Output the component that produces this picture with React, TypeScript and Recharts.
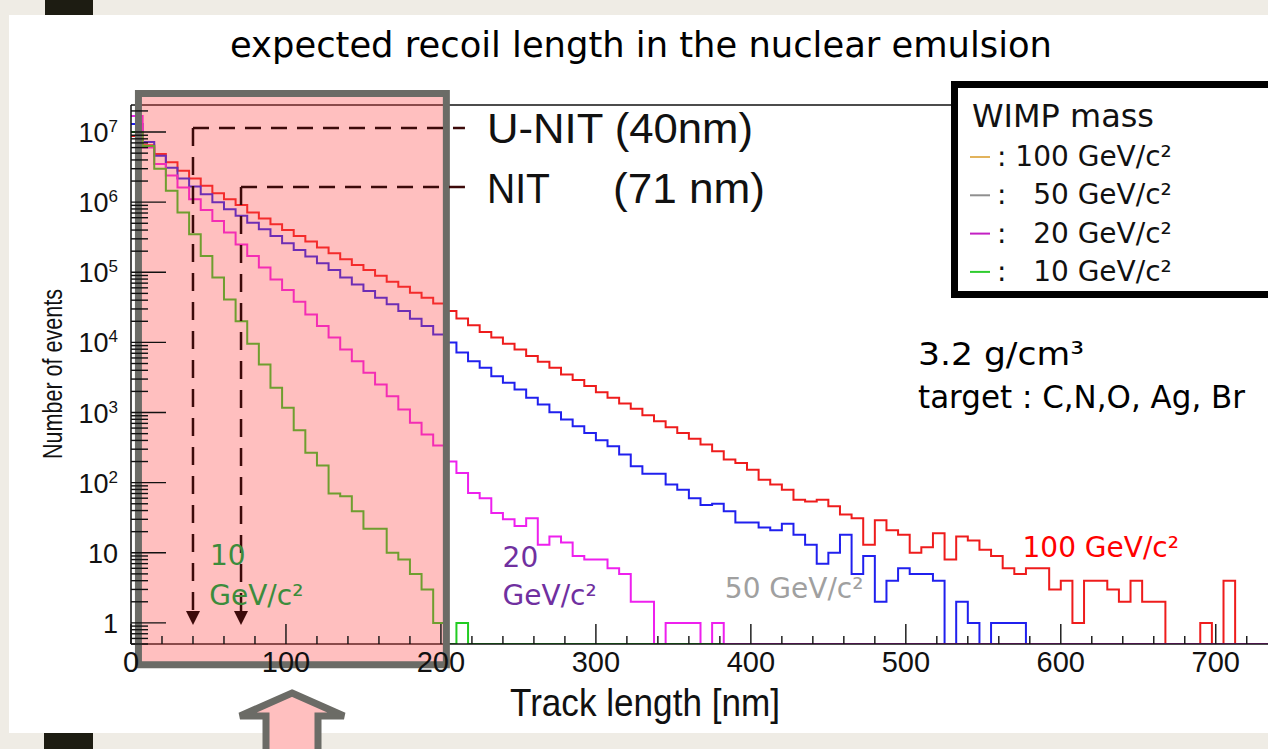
import React from "react";
import {
  LineChart,
  Line,
  XAxis,
  YAxis,
  ReferenceArea,
  ReferenceLine,
  ReferenceDot,
} from "recharts";

// histogram binning, nm
const BIN_WIDTH = 7.5;
const X_MAX = 735;
const Y_MIN = 0.5;
const Y_MAX = 2.43e7;

// events per 7.5 nm bin (0 = empty bin)
const wimp100 = [
  8.8e6, 6.5e6, 4.85e6, 3.7e6, 2.8e6, 2.18e6, 1.71e6, 1.34e6, 1.1e6, 9.1e5,
  7.1e5, 5.85e5, 4.85e5, 4.0e5, 3.3e5, 2.74e5, 2.25e5, 1.87e5, 1.53e5, 1.27e5,
  1.08e5, 8.9e4, 7.3e4, 6.2e4, 5.1e4, 4.35e4, 3.6e4, 2.8e4, 2.2e4, 1.75e4,
  1.41e4, 1.17e4, 9600, 7900, 6400, 5300, 4350, 3500, 2900, 2380,
  1950, 1620, 1350, 1130, 916, 752, 617, 512, 421, 349,
  281, 213, 191, 153, 110, 94, 79, 57, 54, 57,
  46, 35, 31, 13, 29, 21, 18, 10, 12, 19,
  8, 17, 15, 11, 9, 6, 5, 6, 6, 3,
  4, 1, 4, 4, 3, 2, 4, 2, 2, 0,
  0, 0, 1, 0, 4, 0, 0, 0,
];
const wimp50 = [
  1.3e7, 7.2e6, 4.6e6, 3.1e6, 2.18e6, 1.67e6, 1.3e6, 1.0e6, 7.9e5, 6.4e5,
  5.1e5, 4.1e5, 3.3e5, 2.6e5, 2.08e5, 1.68e5, 1.34e5, 1.08e5, 8.4e4, 6.7e4,
  5.4e4, 4.35e4, 3.5e4, 2.8e4, 2.18e4, 1.71e4, 1.3e4, 1.0e4, 7.2e3, 5.4e3,
  4.35e3, 3.3e3, 2.65e3, 2.13e3, 1.62e3, 1.3e3, 1.01e3, 794, 638, 512,
  403, 330, 251, 171, 134, 134, 94, 79, 60, 48,
  50, 39, 27, 27, 23, 21, 26, 18, 13, 7,
  10, 18, 5, 9, 2, 4, 6, 5, 5, 4,
  0, 2, 1, 0, 1, 1, 1, 0, 0, 0,
  0, 0, 0, 0, 0, 0, 0, 0, 0, 0,
  0, 0, 0, 0, 0, 0, 0, 0,
];
const wimp20 = [
  1.7e7, 6.0e6, 3.5e6, 2.4e6, 1.62e6, 1.1e6, 7.7e5, 5.4e5, 3.7e5, 2.5e5,
  1.71e5, 1.17e5, 7.9e4, 5.6e4, 3.8e4, 2.5e4, 1.71e4, 1.17e4, 7.9e3, 5.4e3,
  3.7e3, 2.5e3, 1.71e3, 1.1e3, 713, 485, 340, 200, 137, 71,
  60, 37, 30, 24, 31, 13, 17, 14, 9, 8,
  8, 6, 5, 2, 2, 0, 1, 1, 1, 0,
  1, 0, 0, 0, 0, 0, 0, 0, 0, 0,
  0, 0, 0, 0, 0, 0, 0, 0, 0, 0,
  0, 0, 0, 0, 0, 0, 0, 0, 0, 0,
  0, 0, 0, 0, 0, 0, 0, 0, 0, 0,
  0, 0, 0, 0, 0, 0, 0, 0,
];
const wimp10 = [
  1.0e7, 6.3e6, 3.0e6, 1.45e6, 7.1e5, 3.5e5, 1.71e5, 8.4e4, 4.1e4, 2.0e4,
  9.6e3, 4.85e3, 2.25e3, 1.17e3, 560, 266, 175, 70, 64, 39,
  22, 22, 10, 8, 5, 3, 1, 0, 1, 0,
  0, 0, 0, 0, 0, 0, 0, 0, 0, 0,
  0, 0, 0, 0, 0, 0, 0, 0, 0, 0,
  0,
];

const xTicks = [
  0, 20, 40, 60, 80, 100, 120, 140, 160, 180, 200, 220, 240, 260, 280, 300,
  320, 340, 360, 380, 400, 420, 440, 460, 480, 500, 520, 540, 560, 580, 600,
  620, 640, 660, 680, 700, 720,
];
const xLabelTicks = [0, 100, 200, 300, 400, 500, 600, 700];
const yDecades = [1, 10, 100, 1e3, 1e4, 1e5, 1e6, 1e7];

const legendMasses = ["100", "50", "20", "10"];
const legendColors = ["#e2b35c", "#8f8f8f", "#c320c3", "#2fcc2f"];

// detector thresholds: U-NIT 40 nm, NIT 71 nm
const nitMarks = [
  { nm: 40, level: 1.14e7 },
  { nm: 71, level: 1.65e6 },
];
const NIT_LINE_END = 215.5;
const NIT_ARROW_TOP = 1.45;

const AXIS_FONT = "'Liberation Sans', Arial, sans-serif";
const SLIDE_FONT = "'DejaVu Sans', Verdana, sans-serif";

const notes = [
  { text: "U-NIT (40nm)", x: 229.7, y: 6.87e6, color: "#111", size: 43, font: AXIS_FONT, len: 266 },
  { text: "NIT", x: 229.7, y: 9.73e5, color: "#111", size: 43, font: AXIS_FONT, len: 63 },
  { text: "(71 nm)", x: 311, y: 9.73e5, color: "#111", size: 43, font: AXIS_FONT, len: 152 },
  { text: "10", x: 51, y: 6.7, color: "#3c8c3c", size: 28, font: SLIDE_FONT },
  { text: "GeV/c²", x: 50.5, y: 1.8, color: "#3c8c3c", size: 28, font: SLIDE_FONT },
  { text: "20", x: 239.8, y: 6.27, color: "#7030a0", size: 28, font: SLIDE_FONT },
  { text: "GeV/c²", x: 239.8, y: 1.8, color: "#7030a0", size: 28, font: SLIDE_FONT },
  { text: "50 GeV/c²", x: 383.2, y: 2.27, color: "#a0a0a0", size: 28, font: SLIDE_FONT },
  { text: "100 GeV/c²", x: 575.3, y: 8.7, color: "#ff0000", size: 28, font: SLIDE_FONT },
];

const series = [
  { key: "m100", values: wimp100, color: "#ee1c1c" },
  { key: "m50", values: wimp50, color: "#2020ee" },
  { key: "m20", values: wimp20, color: "#ee20ee" },
  { key: "m10", values: wimp10, color: "#22cc22" },
];

// step histogram rows: one row per bin edge, last edge repeats last bin
const valueAt = (arr: number[], k: number) => {
  if (k > arr.length) return undefined;
  const v = k === arr.length ? arr[k - 1] : arr[k];
  return v > 0 ? v : Y_MIN;
};
const rows = Array.from({ length: 99 }, (_, k) => {
  const row: Record<string, number | undefined> = { x: k * BIN_WIDTH };
  series.forEach((s) => {
    row[s.key] = valueAt(s.values, k);
  });
  return row;
});

const yMinorTicks = [0.1, ...yDecades]
  .flatMap((d) => [2, 3, 4, 5, 6, 7, 8, 9].map((m) => m * d))
  .filter((v) => v >= Y_MIN && v <= Y_MAX);
const yTicks = [...yMinorTicks, ...yDecades].sort((a, b) => a - b);

const XTick = (props: any) => {
  const { x, y, payload } = props;
  const v = payload.value;
  const major = xLabelTicks.includes(v);
  return (
    <g>
      <line x1={x} x2={x} y1={y} y2={y - (major ? 20 : 8)} stroke="#111" strokeWidth={1.4} />
      {major && (
        <text x={x} y={y + 28} textAnchor="middle" fontFamily={AXIS_FONT} fontSize={29} fill="#111">
          {v}
        </text>
      )}
    </g>
  );
};

const YTick = (props: any) => {
  const { x, y, payload } = props;
  const v = payload.value;
  const major = yDecades.includes(v);
  const exp = Math.round(Math.log10(v));
  return (
    <g>
      <line x1={x} x2={x + (major ? 35 : 17)} y1={y} y2={y} stroke="#111" strokeWidth={1.4} />
      {major && (
        <text x={x - 13} y={y + 10} textAnchor="end" fontFamily={AXIS_FONT} fontSize={27} fill="#111">
          {exp < 2 ? (
            String(v)
          ) : (
            <>
              10
              <tspan dy={-10} fontSize={17}>
                {exp}
              </tspan>
            </>
          )}
        </text>
      )}
    </g>
  );
};

export default function App() {
  return (
    <div
      style={{
        position: "absolute",
        left: 0,
        top: 0,
        width: 1268,
        height: 749,
        overflow: "hidden",
        background: "#efece5",
      }}
    >
      <div style={{ position: "absolute", left: 9, top: 15, width: 1259, height: 718, background: "#fff" }} />
      <div style={{ position: "absolute", left: 45, top: 0, width: 48, height: 15, background: "#1d1c12" }} />
      <div style={{ position: "absolute", left: 44, top: 733, width: 49, height: 16, background: "#1d1c12" }} />

      <div style={{ position: "absolute", left: 0, top: 0 }}>
        <LineChart
          width={1275}
          height={749}
          data={rows}
          margin={{ top: 105, right: 5, bottom: 75, left: 0 }}
        >
          <XAxis
            type="number"
            dataKey="x"
            domain={[0, X_MAX]}
            allowDataOverflow
            ticks={xTicks}
            interval={0}
            tickSize={0}
            tickMargin={0}
            tickLine={false}
            axisLine={{ stroke: "#111", strokeWidth: 1.5 }}
            height={30}
            tick={(p: any) => <XTick {...p} />}
          />
          <YAxis
            type="number"
            scale="log"
            domain={[Y_MIN, Y_MAX]}
            allowDataOverflow
            ticks={yTicks}
            interval={0}
            tickSize={0}
            tickMargin={0}
            tickLine={false}
            axisLine={{ stroke: "#111", strokeWidth: 1.5 }}
            width={131}
            tick={(p: any) => <YTick {...p} />}
          />
          <ReferenceLine y={Y_MAX} stroke="#111" strokeWidth={1.5} />

          {series.map((s) => (
            <Line
              key={s.key}
              type="stepAfter"
              dataKey={s.key}
              stroke={s.color}
              strokeWidth={2}
              dot={false}
              activeDot={false}
              connectNulls={false}
              isAnimationActive={false}
            />
          ))}

          <ReferenceArea
            x1={4.8}
            x2={203.5}
            y1={0.252}
            y2={3.54e7}
            ifOverflow="visible"
            fill="#ff4848"
            fillOpacity={0.35}
            stroke="#6b6b66"
            strokeWidth={7}
            zIndex={1500}
          />

          {nitMarks.map((m) => (
            <ReferenceLine
              key={`h${m.nm}`}
              segment={[
                { x: m.nm, y: m.level },
                { x: NIT_LINE_END, y: m.level },
              ]}
              ifOverflow="visible"
              stroke="#3c0a0a"
              strokeWidth={2.5}
              strokeDasharray="16 10"
              zIndex={1800}
            />
          ))}
          {nitMarks.map((m) => (
            <ReferenceLine
              key={`v${m.nm}`}
              segment={[
                { x: m.nm, y: m.level },
                { x: m.nm, y: NIT_ARROW_TOP },
              ]}
              ifOverflow="visible"
              stroke="#3c0a0a"
              strokeWidth={2.5}
              strokeDasharray="18 11"
              zIndex={1800}
            />
          ))}
          {nitMarks.map((m) => (
            <ReferenceDot
              key={`a${m.nm}`}
              x={m.nm}
              y={1}
              r={1}
              ifOverflow="visible"
              zIndex={1800}
              shape={(p: any) => (
                <path
                  d={`M${p.cx - 7},${p.cy - 12} L${p.cx + 7},${p.cy - 12} L${p.cx},${p.cy + 2} Z`}
                  fill="#3c0a0a"
                />
              )}
            />
          ))}
          {notes.map((n, i) => (
            <ReferenceDot
              key={`n${i}`}
              x={n.x}
              y={n.y}
              r={1}
              ifOverflow="visible"
              zIndex={2000}
              shape={(p: any) => (
                <text
                  x={p.cx}
                  y={p.cy}
                  fill={n.color}
                  fontSize={n.size}
                  fontFamily={n.font}
                  textLength={n.len}
                  lengthAdjust={n.len ? "spacingAndGlyphs" : undefined}
                >
                  {n.text}
                </text>
              )}
            />
          ))}
        </LineChart>
      </div>

      <svg
        width={1268}
        height={749}
        style={{ position: "absolute", left: 0, top: 0, pointerEvents: "none" }}
      >
        <text
          x={230}
          y={57}
          fontFamily={SLIDE_FONT}
          fontSize={35}
          fill="#000"
          textLength={822}
          lengthAdjust="spacingAndGlyphs"
        >
          expected recoil length in the nuclear emulsion
        </text>
        <text
          transform="translate(62,374) rotate(-90)"
          textAnchor="middle"
          fontFamily={AXIS_FONT}
          fontSize={27}
          fill="#111"
          textLength={170}
          lengthAdjust="spacingAndGlyphs"
        >
          Number of events
        </text>
        <text
          x={510}
          y={716}
          fontFamily={AXIS_FONT}
          fontSize={39}
          fill="#111"
          textLength={270}
          lengthAdjust="spacingAndGlyphs"
        >
          Track length [nm]
        </text>
        <text x={918} y={365} fontFamily={SLIDE_FONT} fontSize={32} fill="#000" textLength={166} lengthAdjust="spacingAndGlyphs">
          3.2 g/cm³
        </text>
        <text x={918} y={408} fontFamily={SLIDE_FONT} fontSize={32} fill="#000" textLength={327} lengthAdjust="spacingAndGlyphs">
          target : C,N,O, Ag, Br
        </text>

        <rect x={954.5} y={84.5} width={330} height={210} fill="#fff" stroke="#000" strokeWidth={7} />
        <text x={972} y={127} fontFamily={SLIDE_FONT} fontSize={32} fill="#111" textLength={182} lengthAdjust="spacingAndGlyphs">
          WIMP mass
        </text>
        {legendMasses.map((m, i) => (
          <g key={m}>
            <line x1={970} x2={990} y1={157 + i * 38.3} y2={157 + i * 38.3} stroke={legendColors[i]} strokeWidth={2} />
            <text
              x={997}
              y={166 + i * 38.3}
              fontFamily={SLIDE_FONT}
              fontSize={28}
              fill="#111"
              style={{ whiteSpace: "pre" }}
            >
              {m.length === 3 ? `: ${m} GeV/c²` : `:   ${m} GeV/c²`}
            </text>
          </g>
        ))}

        <polygon
          points="292,693 344,716 318,716 318,760 266,760 266,716 240,716"
          fill="#ffbfbf"
          stroke="#6b6b66"
          strokeWidth={7}
        />
      </svg>
    </div>
  );
}
